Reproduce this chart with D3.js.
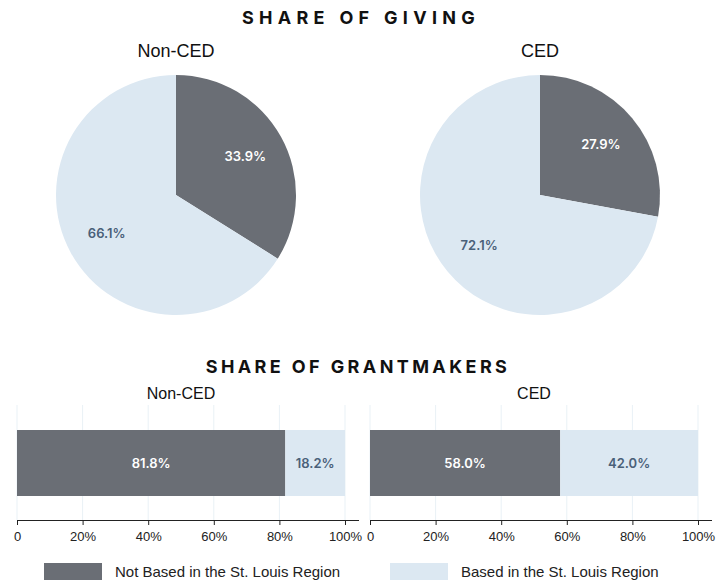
<!DOCTYPE html>
<html>
<head>
<meta charset="utf-8">
<script src="https://cdn.jsdelivr.net/npm/d3@7"></script>
<style>
  body { margin: 0; background: #fff; }
  .title { font-family: Inter, sans-serif; font-weight: 700; font-size: 18px; fill: #111; }
  .sub { font-family: "Liberation Sans", Arial, sans-serif; font-size: 16px; fill: #111; }
  .pie-sub { font-size: 18px; }
  .val { font-family: Inter, sans-serif; font-weight: 600; font-size: 13px; }
  .axis text { font-family: "Liberation Sans", Arial, sans-serif; font-size: 13px; fill: #222; }
  .leg { font-family: "Liberation Sans", Arial, sans-serif; font-size: 15px; fill: #222; }
</style>
</head>
<body>
<div id="canvas"></div>
<script>
// data
var groups = ['Non-CED', 'CED'];
var series = ['Not Based in the St. Louis Region', 'Based in the St. Louis Region'];
var givingShare = [[33.9, 66.1], [27.9, 72.1]];
var grantmakerShare = [[81.8, 18.2], [58.0, 42.0]];
var tickValues = [0, 20, 40, 60, 80, 100];

var colors = ['#6a6e75', '#dce8f2'];
var labelColors = ['#ffffff', '#4a6079'];

var W = 719, H = 586;
var svg = d3.select('#canvas').append('svg')
    .attr('width', W).attr('height', H);

// ---- pies
svg.append('text').attr('class', 'title')
    .attr('x', 361).attr('y', 24).attr('text-anchor', 'middle')
    .style('letter-spacing', '5.3px')
    .text('SHARE OF GIVING');

var pieCx = d3.scalePoint().domain(groups).range([176, 540]);
var r = 120;
var pie = d3.pie().sort(null).value(function(d){ return d; });
var arc = d3.arc().innerRadius(0).outerRadius(r);
var labelArc = d3.arc().innerRadius(r * 0.66).outerRadius(r * 0.66);

groups.forEach(function(g, i){
    var gp = svg.append('g').attr('transform', 'translate(' + pieCx(g) + ',195)');
    svg.append('text').attr('class', 'sub pie-sub')
        .attr('x', pieCx(g)).attr('y', 57).attr('text-anchor', 'middle').text(g);
    var arcs = pie(givingShare[i]);
    gp.selectAll('path').data(arcs).enter().append('path')
        .attr('d', arc)
        .attr('fill', function(d, j){ return colors[j]; });
    gp.selectAll('text').data(arcs).enter().append('text')
        .attr('class', 'val')
        .attr('transform', function(d){ return 'translate(' + labelArc.centroid(d) + ')'; })
        .attr('text-anchor', 'middle').attr('dy', '0.35em')
        .attr('fill', function(d, j){ return labelColors[j]; })
        .text(function(d){ return d.data.toFixed(1) + '%'; });
});

// ---- bars
svg.append('text').attr('class', 'title')
    .attr('x', 358).attr('y', 373).attr('text-anchor', 'middle')
    .style('letter-spacing', '3.4px')
    .text('SHARE OF GRANTMAKERS');

var barLeft = [17, 370];
var barW = 328;
var axisY = 520, barTop = 430, barH = 66, gridTop = 405;

groups.forEach(function(g, i){
    var x = d3.scaleLinear().domain([0, 100]).range([0, barW]);
    var gb = svg.append('g').attr('transform', 'translate(' + barLeft[i] + ',0)');

    svg.append('text').attr('class', 'sub')
        .attr('x', barLeft[i] + barW / 2).attr('y', 399).attr('text-anchor', 'middle').text(g);

    gb.selectAll('.grid').data(tickValues).enter().append('line')
        .attr('class', 'grid')
        .attr('x1', function(d){ return x(d); }).attr('x2', function(d){ return x(d); })
        .attr('y1', gridTop).attr('y2', axisY)
        .attr('stroke', '#e9f1f6').attr('stroke-width', 1);

    var stack = [];
    var acc = 0;
    grantmakerShare[i].forEach(function(v, j){
        stack.push({v: v, x0: acc, x1: acc + v, j: j});
        acc += v;
    });

    gb.selectAll('rect').data(stack).enter().append('rect')
        .attr('x', function(d){ return x(d.x0); })
        .attr('width', function(d){ return x(d.x1) - x(d.x0); })
        .attr('y', barTop).attr('height', barH)
        .attr('fill', function(d){ return colors[d.j]; });

    gb.selectAll('.val').data(stack).enter().append('text')
        .attr('class', 'val')
        .attr('x', function(d){ return (x(d.x0) + x(d.x1)) / 2; })
        .attr('y', barTop + barH / 2).attr('dy', '0.35em')
        .attr('text-anchor', 'middle')
        .attr('fill', function(d){ return labelColors[d.j]; })
        .text(function(d){ return d.v.toFixed(1) + '%'; });

    var ax = gb.append('g').attr('class', 'axis')
        .attr('transform', 'translate(0,' + axisY + ')')
        .call(d3.axisBottom(x).tickValues(tickValues).tickSize(5).tickPadding(7)
            .tickFormat(function(d){ return d === 0 ? '0' : d + '%'; }));
    ax.select('.domain').attr('d', 'M0.5,5V0.5H' + (barW + 14));
    ax.selectAll('.tick line').attr('stroke', '#222');
    ax.select('.domain').attr('stroke', '#222');
});

// ---- legend
var legX = [44, 390];
series.forEach(function(s, j){
    svg.append('rect').attr('x', legX[j]).attr('y', 563).attr('width', 58).attr('height', 17)
        .attr('fill', colors[j]);
    svg.append('text').attr('class', 'leg')
        .attr('x', legX[j] + 71).attr('y', 577).text(s);
});
</script>
</body>
</html>
